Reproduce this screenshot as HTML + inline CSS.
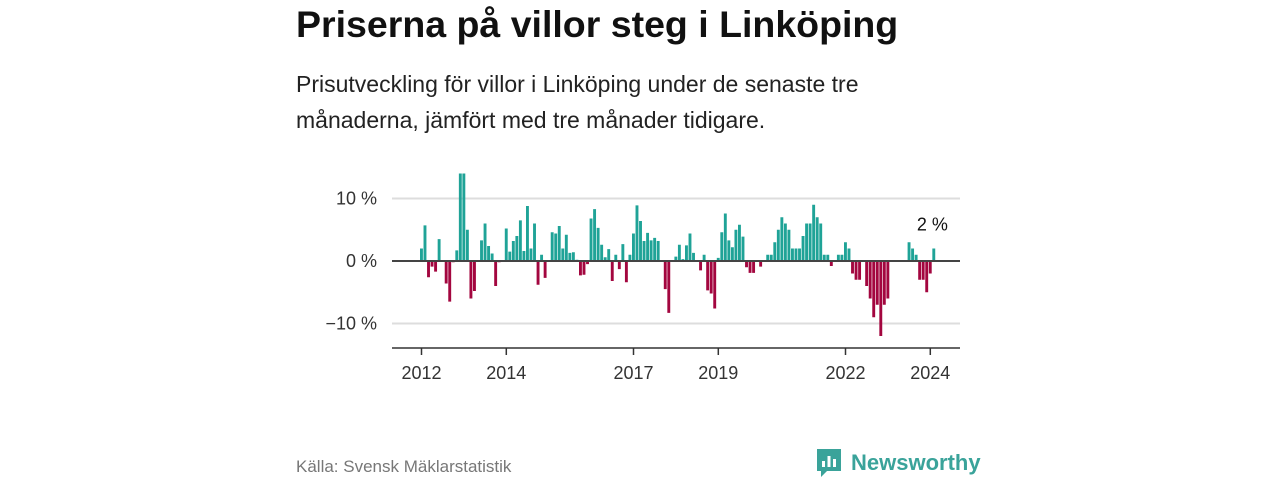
<!DOCTYPE html>
<html><head><meta charset="utf-8"><style>
body{margin:0;width:1280px;height:480px;background:#fff;font-family:"Liberation Sans","DejaVu Sans",sans-serif;overflow:hidden;position:relative}
#title{position:absolute;left:296px;top:3px;font-size:37.5px;font-weight:bold;color:#111;margin:0;white-space:nowrap}
#sub{position:absolute;left:296px;top:66px;font-size:23px;line-height:36px;color:#222;width:620px}
#src{position:absolute;left:296px;top:457px;font-size:17px;color:#777}
#logo{position:absolute;left:815px;top:447px;display:flex;align-items:center}
#logo span{font-size:22px;font-weight:bold;color:#3aa39a;margin-left:8px}
svg text{font-family:"Liberation Sans","DejaVu Sans",sans-serif}
</style></head><body>
<h1 id="title">Priserna på villor steg i Linköping</h1>
<div id="sub">Prisutveckling för villor i Linköping under de senaste tre månaderna, jämfört med tre månader tidigare.</div>
<svg id="chart" width="1280" height="480" style="position:absolute;left:0;top:0"></svg>
<div id="src">Källa: Svensk Mäklarstatistik</div>
<div id="logo">
<svg width="28" height="32" viewBox="0 0 28 32"><path d="M2 2h24v22H12l-6 6v-6H2z" fill="#3aa39a"/><rect x="7" y="14" width="3" height="6" fill="#fff"/><rect x="12.5" y="9" width="3" height="11" fill="#fff"/><rect x="18" y="12" width="3" height="8" fill="#fff"/></svg>
<span>Newsworthy</span></div>
<script>
const years=[2012,2013,2014,2015,2016,2017,2018,2019,2020,2021,2022,2023,2024];
const tickYears=[2012,2014,2017,2019,2022,2024];
const yTicks=[10,0,-10];
const yTickLabels=["10 %","0 %","−10 %"];
const values=[
2.0,5.7,-2.6,-0.9,-1.7,3.5,0,-3.6,-6.5,-0.2,1.7,14,
14,5,-6,-4.8,0,3.3,6,2.4,1.2,-4,-0.2,0,
5.2,1.5,3.2,4,6.5,1.6,8.8,2,6,-3.8,1,-2.7,
0,4.6,4.4,5.6,2,4.2,1.3,1.4,0.2,-2.3,-2.2,-0.5,
6.8,8.3,5.3,2.6,0.6,1.9,-3.2,1,-1.3,2.7,-3.4,1,
4.4,8.9,6.4,3.2,4.5,3.3,3.7,3.2,0,-4.5,-8.3,0,
0.7,2.6,0.3,2.5,4.4,1.3,0,-1.5,1,-4.7,-5.2,-7.6,
0.5,4.6,7.6,3.3,2.2,5,5.8,3.9,-1,-1.9,-1.9,0,
-0.9,0,1,1,3,5,7,6,5,2,2,2,
4,6,6,9,7,6,1,1,-0.8,0,1,1,
3,2,-2,-3,-3,0,-4,-6,-9,-7,-12,-7,
-6,0,0,0,0,0,3,2,1,-3,-3,-5,
-2,2];
const lastLabel="2 %";
const svg=document.getElementById('chart');
const NS="http://www.w3.org/2000/svg";
const x0=392,x1=960;
function xMonth(i){return 420+i*(42.4/12);}
function yVal(v){return 261-Math.max(-14,Math.min(14,v))*6.25;}
function mk(t,a){const e=document.createElementNS(NS,t);for(const k in a)e.setAttribute(k,a[k]);svg.appendChild(e);return e;}
yTicks.forEach((v,i)=>{
 if(v!==0){const g=mk('line',{x1:x0,x2:x1,y1:yVal(v),y2:yVal(v),stroke:'#ddd','stroke-width':2});
 
 }
 const t=mk('text',{x:377,y:yVal(v)+6,'text-anchor':'end','font-size':18,fill:'#333'});t.textContent=yTickLabels[i];
 
 
});
values.forEach((v,i)=>{
 const x=xMonth(i);const y=yVal(v);
 const r=mk('rect',{x:x,y:Math.min(y,261),width:2.9,height:Math.abs(261-y),fill:v>=0?'#1fa397':'#a3063f'});
 
 
});
const z=mk('line',{x1:x0,x2:x1,y1:261,y2:261,stroke:'#444','stroke-width':2});


const ax=mk('line',{x1:x0,x2:x1,y1:348,y2:348,stroke:'#333','stroke-width':1.5});


tickYears.forEach(yr=>{
 const x=xMonth((yr-2012)*12)+1.5;
 const l=mk('line',{x1:x,x2:x,y1:348,y2:355,stroke:'#333','stroke-width':1.5});
 
 
 const t=mk('text',{x:x,y:379,'text-anchor':'middle','font-size':18,fill:'#333'});t.textContent=yr;
 
 
});
const li=values.length-1;
const lt=mk('text',{x:xMonth(li),y:yVal(values[li])-18,'text-anchor':'middle','font-size':18,fill:'#111'});lt.textContent=lastLabel;


</script>
</body></html>
